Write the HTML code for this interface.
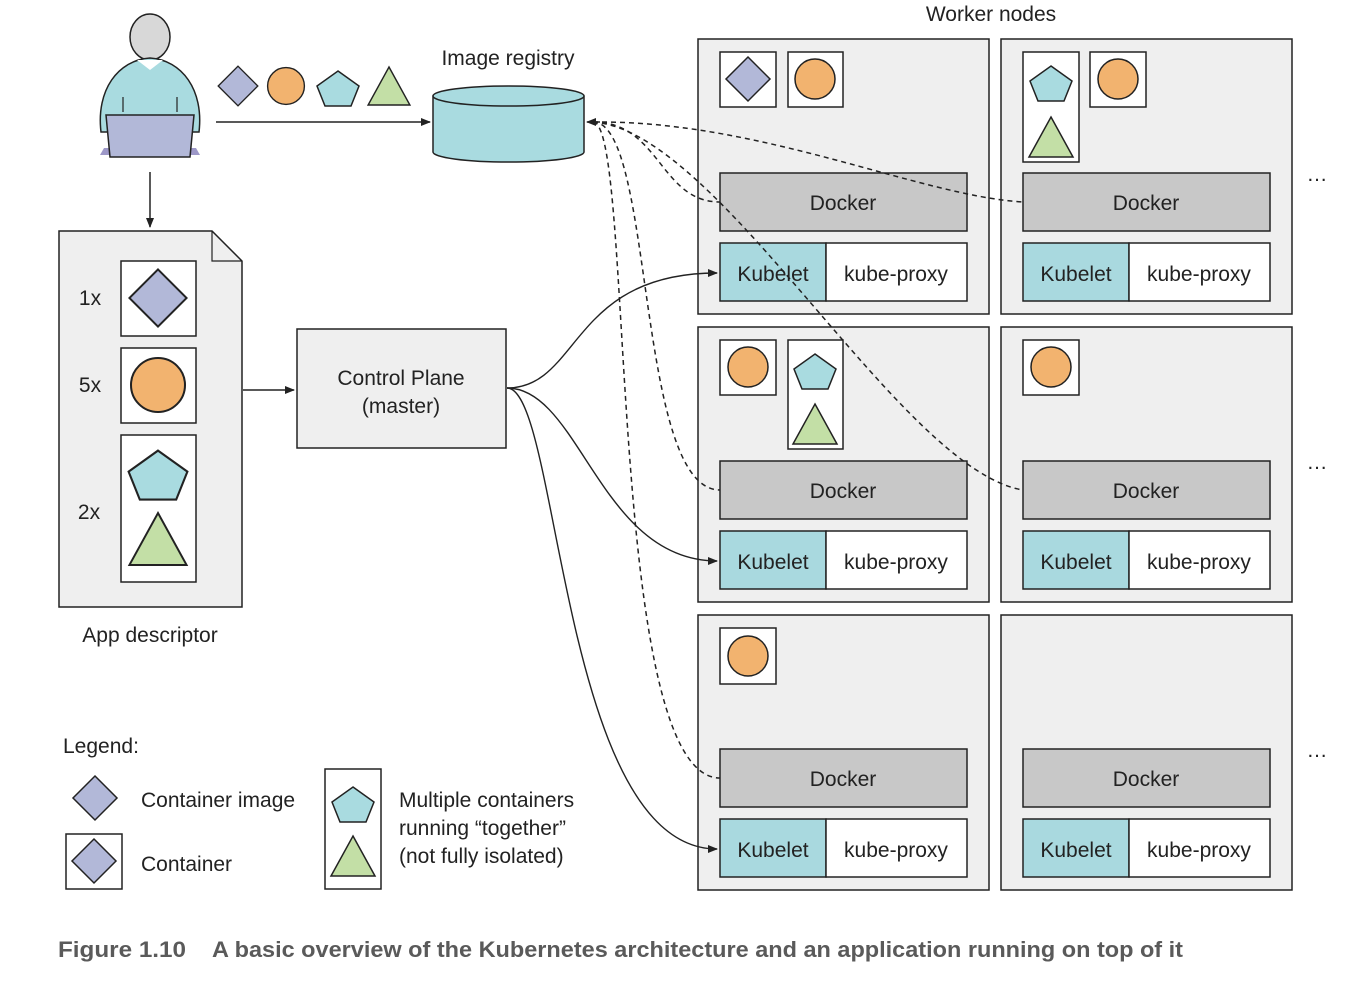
<!DOCTYPE html>
<html><head><meta charset="utf-8"><style>
html,body{margin:0;padding:0;background:#fff}
svg{display:block}
text{font-family:"Liberation Sans",Arial,sans-serif;fill:#222}
</style></head><body>
<svg width="1370" height="1000" viewBox="0 0 1370 1000" xmlns="http://www.w3.org/2000/svg">
<defs>
<marker id="ar" markerWidth="10" markerHeight="8" refX="9" refY="4" orient="auto" markerUnits="userSpaceOnUse"><path d="M0,0 L10,4 L0,8 z" fill="#222"/></marker>
<g id="dia"><polygon points="0,-22 22,0 0,22 -22,0" fill="#b2b8d8" stroke="#222" stroke-width="1.5"/></g>
<g id="cir"><circle r="20" fill="#f2b36f" stroke="#222" stroke-width="1.5"/></g>
<g id="pen"><polygon points="0,-16 21,-1 13,19 -13,19 -21,-1" fill="#a9dbe0" stroke="#222" stroke-width="1.5"/></g>
<g id="tri"><polygon points="0,-20 22,20 -22,20" fill="#c3dfa6" stroke="#222" stroke-width="1.5"/></g>
<g id="dk">
<rect x="720" y="173" width="247" height="58" fill="#c8c8c8" stroke="#222" stroke-width="1.5"/>
<text x="843" y="210" font-size="21" text-anchor="middle">Docker</text>
<rect x="720" y="243" width="106" height="58" fill="#a9d9df" stroke="#222" stroke-width="1.5"/>
<rect x="826" y="243" width="141" height="58" fill="#fff" stroke="#222" stroke-width="1.5"/>
<text x="773" y="281" font-size="21" text-anchor="middle">Kubelet</text>
<text x="896" y="281" font-size="21" text-anchor="middle">kube-proxy</text>
</g>
</defs>

<!-- person -->
<ellipse cx="150" cy="37" rx="20" ry="23" fill="#d8d8d8" stroke="#222" stroke-width="1.5"/>
<path d="M101,132 C96,90 118,60 150,58 C182,60 204,90 199,132 Z" fill="#a9dbe0" stroke="#222" stroke-width="1.5"/>
<polygon points="137,60 150,70 163,60" fill="#fff"/>
<path d="M123,97 L123,112 M177,97 L177,112" stroke="#222" stroke-width="1.2" fill="none"/>
<polygon points="100,155 200,155 196,148 104,148" fill="#9d98c8"/>
<polygon points="106,115 194,115 190,157 110,157" fill="#b2b8d8" stroke="#222" stroke-width="1.5"/>

<use href="#dia" transform="translate(238,86) scale(0.9)"/>
<use href="#cir" transform="translate(286,86) scale(0.92)"/>
<use href="#pen" transform="translate(338,87) scale(1)"/>
<use href="#tri" transform="translate(389,86) scale(0.95)"/>
<line x1="216" y1="122" x2="430" y2="122" stroke="#222" stroke-width="1.5" marker-end="url(#ar)"/>

<text x="508" y="65" font-size="21" text-anchor="middle">Image registry</text>
<path d="M433,96 L433,152 A75.5,10 0 0 0 584,152 L584,96" fill="#a9dbe0" stroke="#222" stroke-width="1.5"/>
<ellipse cx="508.5" cy="96" rx="75.5" ry="10" fill="#a9dbe0" stroke="#222" stroke-width="1.5"/>

<line x1="150" y1="172" x2="150" y2="227" stroke="#222" stroke-width="1.5" marker-end="url(#ar)"/>

<path d="M59,231 L212,231 L242,261 L242,607 L59,607 Z" fill="#efefef" stroke="#222" stroke-width="1.5"/>
<path d="M212,231 L212,261 L242,261" fill="none" stroke="#222" stroke-width="1.2"/>
<rect x="121" y="261" width="75" height="75" fill="#fff" stroke="#222" stroke-width="1.5"/>
<rect x="121" y="348" width="75" height="75" fill="#fff" stroke="#222" stroke-width="1.5"/>
<rect x="121" y="435" width="75" height="147" fill="#fff" stroke="#222" stroke-width="1.5"/>
<use href="#dia" transform="translate(158,298) scale(1.3)"/>
<use href="#cir" transform="translate(158,385) scale(1.35)"/>
<use href="#pen" transform="translate(158,473) scale(1.4)"/>
<use href="#tri" transform="translate(158,539) scale(1.3)"/>
<text x="90" y="305" font-size="21" text-anchor="middle">1x</text>
<text x="90" y="392" font-size="21" text-anchor="middle">5x</text>
<text x="89" y="519" font-size="21" text-anchor="middle">2x</text>
<text x="150" y="642" font-size="21" text-anchor="middle">App descriptor</text>
<line x1="243" y1="390" x2="294" y2="390" stroke="#222" stroke-width="1.5" marker-end="url(#ar)"/>

<rect x="297" y="329" width="209" height="119" fill="#efefef" stroke="#222" stroke-width="1.5"/>
<text x="401" y="385" font-size="21" text-anchor="middle">Control Plane</text>
<text x="401" y="413" font-size="21" text-anchor="middle">(master)</text>

<text x="991" y="21" font-size="21" text-anchor="middle">Worker nodes</text>

<g stroke="#222" stroke-width="1.5">
<rect x="698" y="39" width="291" height="275" fill="#efefef"/>
<rect x="1001" y="39" width="291" height="275" fill="#efefef"/>
<rect x="698" y="327" width="291" height="275" fill="#efefef"/>
<rect x="1001" y="327" width="291" height="275" fill="#efefef"/>
<rect x="698" y="615" width="291" height="275" fill="#efefef"/>
<rect x="1001" y="615" width="291" height="275" fill="#efefef"/>
</g>
<g font-size="21">
<text x="1317" y="181" text-anchor="middle">…</text>
<text x="1317" y="469" text-anchor="middle">…</text>
<text x="1317" y="757" text-anchor="middle">…</text>
</g>

<g stroke="#222" stroke-width="1.5" fill="#fff">
<rect x="720" y="52" width="56" height="55"/>
<rect x="788" y="52" width="55" height="55"/>
<rect x="1023" y="52" width="56" height="110"/>
<rect x="1090" y="52" width="56" height="55"/>
<rect x="720" y="340" width="56" height="55"/>
<rect x="788" y="340" width="55" height="109"/>
<rect x="1023" y="340" width="56" height="55"/>
<rect x="720" y="628" width="56" height="56"/>
</g>
<use href="#dia" transform="translate(748,79)"/>
<use href="#cir" transform="translate(815,79)"/>
<use href="#pen" transform="translate(1051,82)"/>
<use href="#tri" transform="translate(1051,137)"/>
<use href="#cir" transform="translate(1118,79)"/>
<use href="#cir" transform="translate(748,367)"/>
<use href="#pen" transform="translate(815,370)"/>
<use href="#tri" transform="translate(815,424)"/>
<use href="#cir" transform="translate(1051,367)"/>
<use href="#cir" transform="translate(748,656)"/>

<use href="#dk"/>
<use href="#dk" transform="translate(303,0)"/>
<use href="#dk" transform="translate(0,288)"/>
<use href="#dk" transform="translate(303,288)"/>
<use href="#dk" transform="translate(0,576)"/>
<use href="#dk" transform="translate(303,576)"/>

<g fill="none" stroke="#222" stroke-width="1.5" stroke-dasharray="5,4">
<path d="M593,122 C660,122 660,202 720,202"/>
<path d="M593,122 C760,120 920,196 1023,202"/>
<path d="M593,122 C720,130 900,470 1023,490"/>
<path d="M593,122 C655,122 635,490 720,490"/>
<path d="M593,122 C635,122 605,778 720,778"/>
</g>
<line x1="600" y1="122" x2="587" y2="122" stroke="#222" stroke-width="1.5" marker-end="url(#ar)"/>

<g fill="none" stroke="#222" stroke-width="1.4">
<path d="M507,388 C580,388 570,273 717,273" marker-end="url(#ar)"/>
<path d="M507,388 C580,388 600,561 717,561" marker-end="url(#ar)"/>
<path d="M507,388 C560,388 560,849 717,849" marker-end="url(#ar)"/>
</g>

<text x="63" y="753" font-size="21">Legend:</text>
<use href="#dia" transform="translate(95,798)"/>
<text x="141" y="807" font-size="21">Container image</text>
<rect x="66" y="834" width="56" height="55" fill="#fff" stroke="#222" stroke-width="1.5"/>
<use href="#dia" transform="translate(94,861)"/>
<text x="141" y="871" font-size="21">Container</text>
<rect x="325" y="769" width="56" height="120" fill="#fff" stroke="#222" stroke-width="1.5"/>
<use href="#pen" transform="translate(353,803)"/>
<use href="#tri" transform="translate(353,856)"/>
<text x="399" y="807" font-size="21">Multiple containers</text>
<text x="399" y="835" font-size="21">running “together”</text>
<text x="399" y="863" font-size="21">(not fully isolated)</text>

<text x="58" y="957" font-size="22" font-weight="bold" style="fill:#5a5a5a" textLength="128" lengthAdjust="spacingAndGlyphs">Figure 1.10</text>
<text x="212" y="957" font-size="22" font-weight="bold" style="fill:#5a5a5a" textLength="971" lengthAdjust="spacingAndGlyphs">A basic overview of the Kubernetes architecture and an application running on top of it</text>
</svg>
</body></html>
